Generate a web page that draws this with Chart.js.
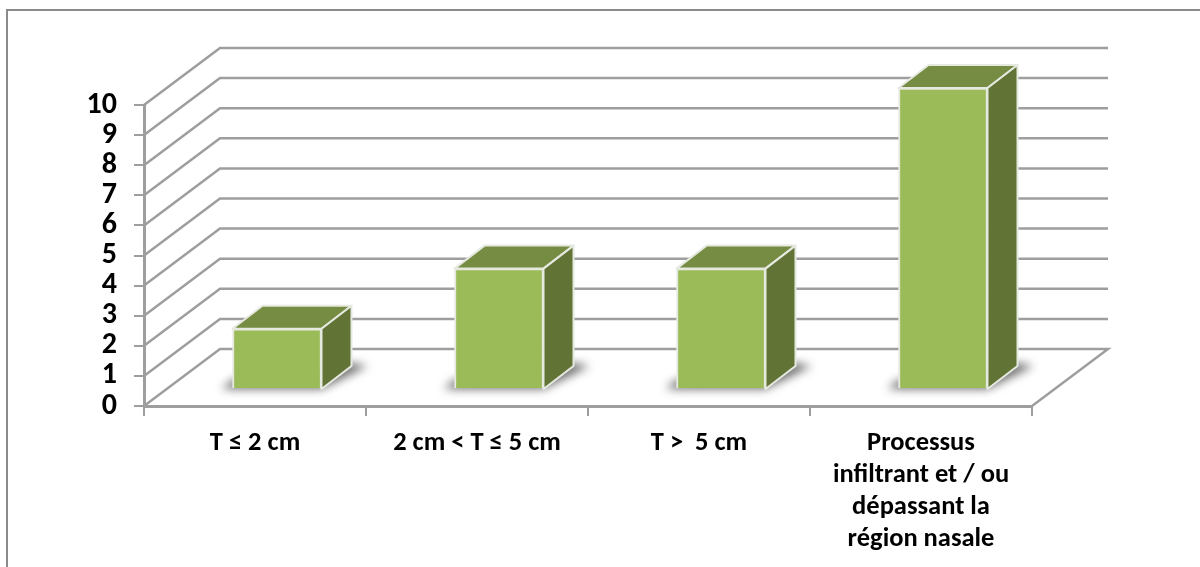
<!DOCTYPE html>
<html>
<head>
<meta charset="utf-8">
<title>Taille tumorale</title>
<script src="https://cdn.jsdelivr.net/npm/chart.js@4"></script>
<style>
    html, body { margin: 0; padding: 0; background: #fff; }
    #wrap { position: relative; width: 1200px; height: 567px; overflow: hidden; }
    #frame { position: absolute; left: 6px; top: 9px; width: 1300px; height: 700px; border: 2px solid #8a8a8a; box-sizing: border-box; }
    canvas { position: absolute; left: 0; top: 0; }
</style>
</head>
<body>
<div id="wrap">
    <div id="frame"></div>
    <canvas id="chart" width="1200" height="567"></canvas>
</div>
<script>
const categories = [
    'T ≤ 2 cm',
    '2 cm < T ≤ 5 cm',
    'T >  5 cm',
    ['Processus', 'infiltrant et / ou', 'dépassant la', 'région nasale']
];
const values = [2, 4, 4, 10];
const yTicks = [0, 1, 2, 3, 4, 5, 6, 7, 8, 9, 10];

// depth of the fake 3d box, back wall and bar position on the floor
const wallDx = 76, wallDy = -57;
const barDx = 22, barDy = -17;
const boxDx = 30, boxDy = -23;

const gridColor = '#9e9e9e';
const edgeColor = '#e6e9e0';
const labelFont = 'Carlito, Lato, "Open Sans", "Noto Sans"';

const wall3d = {
    id: 'wall3d',
    beforeDatasetsDraw(chart) {
        const { ctx, scales: { x, y } } = chart;
        ctx.save();
        ctx.strokeStyle = gridColor;
        ctx.lineWidth = 2.5;
        yTicks.forEach(t => {
            const py = y.getPixelForValue(t);
            ctx.beginPath();
            ctx.moveTo(x.left, py);
            ctx.lineTo(x.left + wallDx, py + wallDy);
            ctx.lineTo(x.right + wallDx, py + wallDy);
            if (t === 0) ctx.lineTo(x.right, py);
            ctx.stroke();
        });
        ctx.restore();
    }
};

const box3d = {
    id: 'box3d',
    beforeDatasetDraw(chart) {
        const ctx = chart.ctx;
        const bars = chart.getDatasetMeta(0).data;
        const base = chart.scales.y.getPixelForValue(0) + barDy;
        ctx.save();
        bars.forEach(bar => {
            const left = bar.x - bar.width / 2 + barDx;
            const right = bar.x + bar.width / 2 + barDx;
            const top = bar.y + barDy;
            // floor shadow
            ctx.save();
            ctx.filter = 'blur(5px)';
            ctx.fillStyle = '#6e6e6e';
            ctx.beginPath();
            ctx.moveTo(left - 11, base);
            ctx.lineTo(right, base);
            ctx.lineTo(right + boxDx + 16, base + boxDy);
            ctx.lineTo(right + boxDx, base + boxDy - 3);
            ctx.lineTo(left, base - 9);
            ctx.closePath();
            ctx.fill();
            ctx.restore();

            ctx.strokeStyle = edgeColor;
            ctx.lineWidth = 2;
            ctx.lineJoin = 'round';
            // top face
            ctx.fillStyle = '#768c42';
            ctx.beginPath();
            ctx.moveTo(left, top);
            ctx.lineTo(left + boxDx, top + boxDy);
            ctx.lineTo(right + boxDx, top + boxDy);
            ctx.lineTo(right, top);
            ctx.closePath();
            ctx.fill();
            ctx.stroke();
            // side face
            ctx.fillStyle = '#617436';
            ctx.beginPath();
            ctx.moveTo(right, top);
            ctx.lineTo(right + boxDx, top + boxDy);
            ctx.lineTo(right + boxDx, base + boxDy);
            ctx.lineTo(right, base);
            ctx.closePath();
            ctx.fill();
            ctx.stroke();
        });
        ctx.restore();
        // front face is the library's own bar, moved onto the floor
        ctx.save();
        ctx.translate(barDx, barDy);
    },
    afterDatasetDraw(chart) {
        chart.ctx.restore();
    }
};

new Chart(document.getElementById('chart'), {
    type: 'bar',
    data: {
        labels: categories,
        datasets: [{
            data: values,
            backgroundColor: '#9bbb59',
            borderColor: edgeColor,
            borderWidth: 2,
            barThickness: 89
        }]
    },
    options: {
        responsive: false,
        animation: false,
        layout: { padding: { left: 0, right: 168, top: 105, bottom: 0 } },
        plugins: { legend: { display: false }, tooltip: { enabled: false } },
        scales: {
            x: {
                afterFit(scale) { scale.height = 161; },
                grid: { color: gridColor, lineWidth: 2, drawOnChartArea: false, tickLength: 10, offset: true },
                border: { color: gridColor, width: 3 },
                ticks: {
                    color: '#000',
                    font: { family: labelFont, size: 26.5, weight: 'bold', lineHeight: 1.21 },
                    maxRotation: 0,
                    autoSkip: false,
                    padding: 11
                }
            },
            y: {
                min: 0,
                max: 10,
                afterFit(scale) { scale.width = 144; },
                grid: { color: gridColor, lineWidth: 2, drawOnChartArea: false, tickLength: 10 },
                border: { color: gridColor, width: 3 },
                ticks: {
                    stepSize: 1,
                    autoSkip: false,
                    color: '#000',
                    font: { family: labelFont, size: 30, weight: 'bold' },
                    padding: 17
                }
            }
        }
    },
    plugins: [wall3d, box3d]
});
</script>
</body>
</html>
